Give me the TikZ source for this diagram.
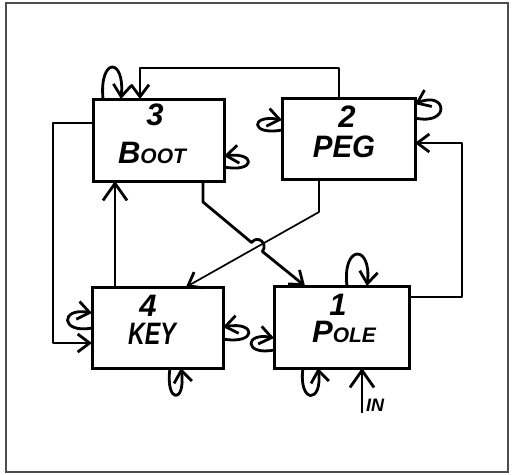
\documentclass[tikz,border=0pt]{standalone}
\usepackage{fontspec}
\usepackage{graphicx}
\setmainfont{Liberation Sans}
\usetikzlibrary{arrows.meta,calc}
\tikzset{
  box/.style={draw,line width=3pt,inner sep=0pt,outer sep=0pt,rectangle},
  lbl/.style={inner sep=0pt,font=\bfseries\itshape},
  wire/.style={line width=2.8pt,line join=round},
  thinwire/.style={line width=1.7pt,line join=round},
  tip/.style={-{Straight Barb[length=12pt,width=18pt,line width=2.8pt]}},
  bigtip/.style={-{Straight Barb[length=17pt,width=24pt,line width=2.8pt]}},
  frame/.style={draw=black!70,line width=1.6pt}
}
\newcommand{\bgltxt}[1]{{\fontsize{31}{31}\selectfont #1}}
\newcommand{\smltxt}[1]{{\fontsize{21}{21}\selectfont #1}}
\begin{document}
\begin{tikzpicture}[x=1pt,y=-1pt]
\useasboundingbox (0,0) rectangle (514,474);
\fill[white] (0,0) rectangle (514,474);
\draw[frame] (6,3) rectangle (508,472);
% boxes
\node[box,minimum width=131pt,minimum height=82pt] (b3) at (158.5,140) {};
\node[box,minimum width=133pt,minimum height=81pt] (b2) at (348.5,138.5) {};
\node[box,minimum width=131pt,minimum height=81pt] (b4) at (157.5,327.5) {};
\node[box,minimum width=135pt,minimum height=82pt] (b1) at (341.5,327) {};
% labels
\node[lbl] (n3) at (155,115) {\bgltxt{3}};
\node[lbl] (t3) at (152,153) {\bgltxt{B}\smltxt{OOT}};
\node[lbl] (n2) at (347,117) {\bgltxt{2}};
\node[lbl] (t2) at (344,147) {\scalebox{0.95}[1]{\bgltxt{PEG}}};
\node[lbl] (n4) at (148,306) {\bgltxt{4}};
\node[lbl] (t4) at (152,334) {\scalebox{0.75}[1]{\bgltxt{KEY}}};
\node[lbl] (n1) at (338,305) {\bgltxt{1}};
\node[lbl] (t1) at (344,332) {\bgltxt{P}\smltxt{OLE}};
\node[lbl,anchor=west] (tin) at (366,405) {\fontsize{18}{18}\selectfont IN};
% connectors
\draw[wire,tip] ($(b2.north west)+(57,0)$) -- ++(0,-30) -| ($(b3.north west)+(47,0)$);
\draw[wire,tip] ($(b3.north west)+(0,24)$) -- ++(-40,0) |- ($(b4.north west)+(0,56)$);
\draw[wire,bigtip] ($(b4.north west)+(23,0)$) -- ($(b3.south west)+(22,0)$);
\draw[wire,tip] ($(b1.north east)+(0,11)$) -- ++(53,0) |- ($(b2.north east)+(0,45)$);
\draw[wire,tip] ($(b3.south west)+(110,0)$) -- ++(0,21) -- (251.6,242.5)
   .. controls +(6,-8) and +(6,-8) .. (262.4,251.5) -- ($(b1.north west)+(31,0)$);
\draw[thinwire,tip] ($(b2.south west)+(37,0)$) -- ++(0,33) -- ($(b4.north west)+(94,0)$);
% input
\coordinate (inS) at (362,413);
\draw[wire,bigtip] (inS) -- ($(b1.south west)+(88,0)$);
% self loops
\draw[wire,tip] ($(b3.north west)+(10,0)$) .. controls +(-4,-42) and +(4,-42) .. ($(b3.north west)+(28,0)$);
\draw[wire,tip] ($(b3.south east)+(0,-14)$) .. controls +(32,6) and +(32,-4) .. ($(b3.south east)+(0,-25)$);
\draw[wire,tip] ($(b2.north west)+(0,32)$) .. controls +(-32,6) and +(-32,-6) .. ($(b2.north west)+(0,22)$);
\draw[wire,tip] ($(b2.north east)+(0,20)$) .. controls +(36,8) and +(32,-14) .. ($(b2.north east)+(0,6)$);
\draw[wire,tip] ($(b4.north west)+(0,41)$) .. controls +(-32,6) and +(-32,-6) .. ($(b4.north west)+(0,26)$);
\draw[wire,tip] ($(b4.north east)+(0,52)$) .. controls +(34,6) and +(34,-6) .. ($(b4.north east)+(0,40)$);
\draw[wire,tip] ($(b4.south west)+(78,0)$) .. controls +(-5,36) and +(5,36) .. ($(b4.south west)+(89,0)$);
\draw[wire,tip] ($(b1.north west)+(0,64)$) .. controls +(-30,6) and +(-30,-6) .. ($(b1.north west)+(0,52)$);
\draw[wire,tip] ($(b1.north west)+(73,0)$) .. controls +(-5,-42) and +(5,-42) .. ($(b1.north west)+(93,0)$);
\draw[wire,tip] ($(b1.south west)+(29,0)$) .. controls +(-5,36) and +(5,36) .. ($(b1.south west)+(44,0)$);
\end{tikzpicture}
\end{document}
